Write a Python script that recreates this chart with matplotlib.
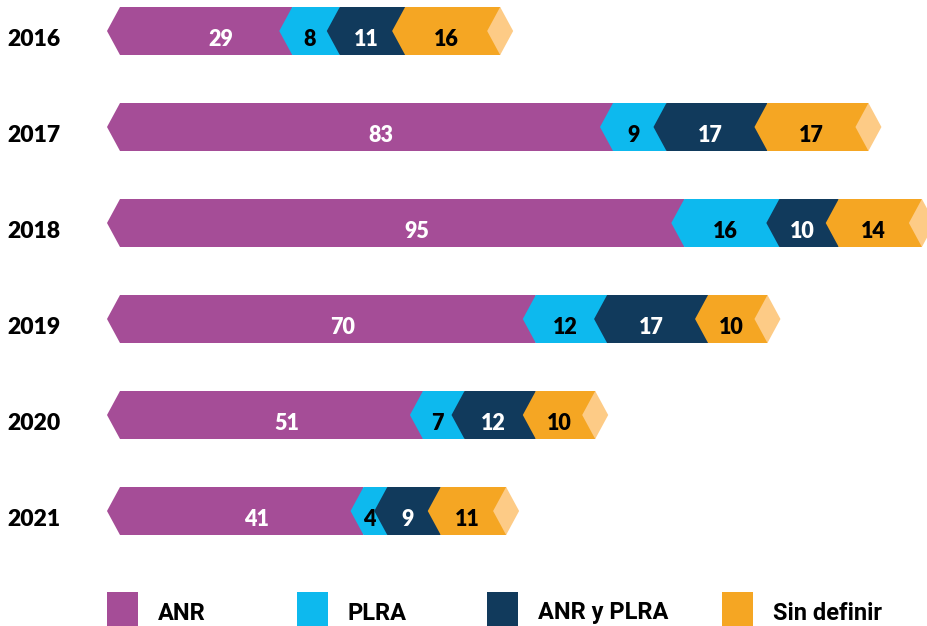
import numpy as np
import matplotlib.pyplot as plt
from matplotlib.patches import Polygon, Rectangle

# datos
years = ['2016', '2017', '2018', '2019', '2020', '2021']
series = ['ANR', 'PLRA', 'ANR y PLRA', 'Sin definir']
anr = [29, 83, 95, 70, 51, 41]
plra = [8, 9, 16, 12, 7, 4]
anr_plra = [11, 17, 10, 17, 12, 9]
sin_definir = [16, 17, 14, 10, 10, 11]

colors = ['#A54D97', '#0DB9EE', '#113A5C', '#F5A623']
tip_color = '#FDCB86'
text_colors = ['white', 'black', 'white', 'black']

W, H = 928, 626
px_unit = 5.94          # pixeles por unidad
x0_px = 120             # donde empieza el valor 0
d = 13 / px_unit        # profundidad del chevron
h = 0.25                # media altura de barra

fig = plt.figure(figsize=(W / 100, H / 100), dpi=100)
ax = fig.add_axes([0, 0, 1, 1])
ax.set_xlim(-x0_px / px_unit, (W - x0_px) / px_unit)
ax.set_ylim((H - 31) / 96, -31 / 96)
ax.axis('off')

data = np.array([anr, plra, anr_plra, sin_definir])
num_font = dict(family=['Lato', 'DejaVu Sans'], weight='heavy', fontsize=15.5)
year_font = dict(family=['Lato', 'DejaVu Sans'], weight='heavy', fontsize=16.5)

for i, year in enumerate(years):
    y = i
    start = 0
    z = 2
    for k in range(len(series)):
        v = data[k, i]
        end = start + v
        verts = [(start - d, y), (start, y - h), (end, y - h), (end, y + h), (start, y + h)]
        ax.add_patch(Polygon(verts, closed=True, facecolor=colors[k], edgecolor='none', zorder=z))
        cx = start + v / 2
        if k == 0:
            cx += 2.5
        else:
            cx -= d / 2
        ax.text(cx, y + 0.09, str(v), color=text_colors[k], ha='center', va='center',
                zorder=20, **num_font)
        start = end
        z += 1
    # punta final
    tip = [(start - d, y), (start, y - h), (start + d, y), (start, y + h)]
    ax.add_patch(Polygon(tip, closed=True, facecolor=tip_color, edgecolor='none', zorder=z))
    ax.text(34 / W, y + 0.09, year, transform=ax.get_yaxis_transform(), ha='center', va='center',
            color='black', **year_font)

# leyenda
leg_x = [107, 297, 487, 722]
for k, name in enumerate(series):
    fig.patches.append(Rectangle((leg_x[k] / W, 0), 31 / W, 34 / H, transform=fig.transFigure,
                                 facecolor=colors[k], edgecolor='none'))
    fig.text((leg_x[k] + 51) / W, 13 / H, name, ha='left', va='center', fontsize=17,
             family=['Roboto', 'DejaVu Sans'], weight='bold', color='black')

fig.savefig('out.png', dpi=100)
